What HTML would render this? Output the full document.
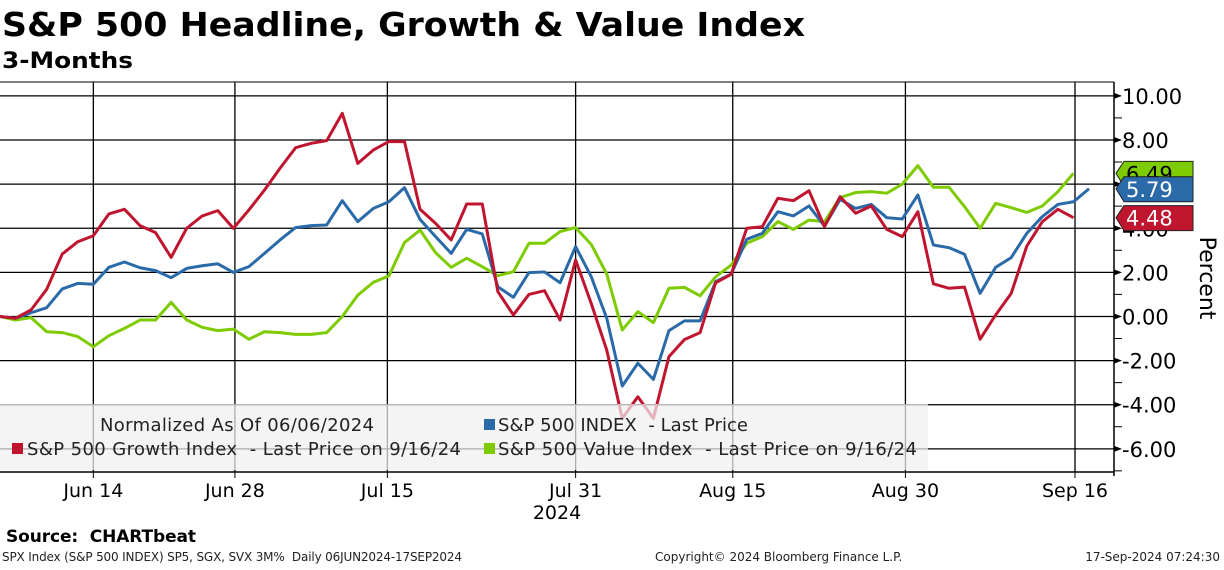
<!DOCTYPE html>
<html><head><meta charset="utf-8"><style>
body{margin:0;background:#fff;width:1224px;height:566px;overflow:hidden;font-family:"DejaVu Sans","Liberation Sans",sans-serif}
text{white-space:pre}
</style></head><body>
<svg width="1224" height="566" xmlns="http://www.w3.org/2000/svg">
<text x="2" y="36" font-size="33" font-weight="bold" textLength="803" lengthAdjust="spacingAndGlyphs">S&amp;P 500 Headline, Growth &amp; Value Index</text>
<text x="2" y="68" font-size="22" font-weight="bold" textLength="131" lengthAdjust="spacingAndGlyphs">3-Months</text>
<g id="grid"></g>
<g id="lines"></g>
<g id="legend">
<rect x="0" y="404" width="928" height="66" fill="#f0f0f0" opacity="0.72"/>
<text x="100" y="431" font-size="18" fill="#222" textLength="274">Normalized As Of 06/06/2024</text>
<rect x="484" y="419" width="11" height="11" fill="#2a6aa8"/>
<text x="498" y="431" font-size="18" fill="#222" textLength="250">S&amp;P 500 INDEX  - Last Price</text>
<rect x="12" y="443" width="11" height="11" fill="#c0152f"/>
<text x="27" y="455" font-size="18" fill="#222" textLength="434">S&amp;P 500 Growth Index  - Last Price on 9/16/24</text>
<rect x="484" y="443" width="11" height="11" fill="#7dcb00"/>
<text x="498" y="455" font-size="18" fill="#222" textLength="419">S&amp;P 500 Value Index  - Last Price on 9/16/24</text>
</g>
<g id="axes"></g>
<g id="tags"></g>
<text transform="translate(1200,278) rotate(90)" font-size="22" text-anchor="middle">Percent</text>
<text x="6" y="542" font-size="17" font-weight="bold" textLength="190">Source:  CHARTbeat</text>
<text x="2" y="561" font-size="12" fill="#222" textLength="460">SPX Index (S&amp;P 500 INDEX) SP5, SGX, SVX 3M%  Daily 06JUN2024-17SEP2024</text>
<text x="655" y="561" font-size="12" fill="#222">Copyright© 2024 Bloomberg Finance L.P.</text>
<text x="1220" y="561" font-size="12" fill="#222" text-anchor="end">17-Sep-2024 07:24:30</text>
</svg>
<script>
const growth=[0,-0.08,0.3,1.23,2.83,3.39,3.66,4.65,4.86,4.12,3.8,2.68,4.0,4.56,4.8,4.0,4.83,5.73,6.72,7.65,7.85,7.97,9.21,6.94,7.55,7.93,7.93,4.86,4.22,3.47,5.1,5.1,1.13,0.07,1.0,1.17,-0.16,2.56,0.6,-1.52,-4.62,-3.64,-4.62,-1.82,-1.04,-0.73,1.53,1.91,4.0,4.07,5.36,5.25,5.7,4.07,5.43,4.68,5.01,3.95,3.62,4.75,1.48,1.28,1.33,-1.03,0.07,1.05,3.19,4.3,4.86,4.48];
const spx=[0,-0.08,0.17,0.4,1.25,1.5,1.46,2.23,2.47,2.21,2.08,1.76,2.18,2.3,2.39,2.0,2.26,2.86,3.47,4.03,4.12,4.15,5.25,4.3,4.9,5.2,5.84,4.4,3.62,2.86,3.95,3.74,1.35,0.87,1.99,2.02,1.53,3.17,1.81,-0.08,-3.15,-2.12,-2.85,-0.64,-0.2,-0.2,1.58,1.92,3.5,3.77,4.75,4.56,5.01,4.1,5.31,4.9,5.08,4.48,4.42,5.51,3.24,3.12,2.82,1.05,2.23,2.67,3.77,4.53,5.08,5.2,5.79];
const value=[0,-0.16,-0.05,-0.69,-0.73,-0.91,-1.37,-0.87,-0.54,-0.16,-0.16,0.64,-0.16,-0.49,-0.64,-0.57,-1.03,-0.69,-0.73,-0.81,-0.81,-0.73,0,0.97,1.55,1.84,3.35,3.92,2.89,2.23,2.64,2.26,1.85,2.03,3.32,3.32,3.85,4.03,3.27,1.93,-0.61,0.22,-0.28,1.28,1.32,0.94,1.8,2.33,3.32,3.62,4.3,3.95,4.37,4.3,5.39,5.62,5.66,5.59,6.0,6.84,5.86,5.86,4.98,4.0,5.13,4.93,4.72,5.01,5.66,6.49];
const yTicks=[10,8,6,4,2,0,-2,-4,-6];
const xTickLabels=["Jun 14","Jun 28","Jul 15","Jul 31","Aug 15","Aug 30","Sep 16"];
const xTickIdx=[6,15.1,24.9,37,47.1,58.2,69.1];
const NS="http://www.w3.org/2000/svg";
const X0=0,X1=1114,T=82,B=472;
const xs=i=>X0+i*(1089/70);
const ys=v=>316.5-v*22.06;
function mk(tag,attrs,parent){const e=document.createElementNS(NS,tag);for(const k in attrs)e.setAttribute(k,attrs[k]);document.getElementById(parent).appendChild(e);return e;}
mk('line',{x1:0,x2:X1,y1:T,y2:T,stroke:'#000','stroke-width':1},'grid');
yTicks.forEach(v=>{const l=mk('line',{x1:0,x2:X1,y1:ys(v),y2:ys(v),stroke:'#000','stroke-width':1.3},'grid');

});
xTickIdx.forEach(i=>{const l=mk('line',{x1:xs(i),x2:xs(i),y1:T,y2:B,stroke:'#000','stroke-width':1.3},'grid');

});
[[value,'#7dcb00','value-line'],[spx,'#2a6aa8','spx-line'],[growth,'#c0152f','growth-line']].forEach(([d,c,n])=>{
const p=mk('polyline',{points:d.map((v,i)=>xs(i)+','+ys(v)).join(' '),fill:'none',stroke:c,'stroke-width':3,'stroke-linejoin':'round'},'lines');

});
mk('line',{x1:X1,x2:X1,y1:T,y2:B+4,stroke:'#000','stroke-width':1.5},'axes');
mk('line',{x1:0,x2:X1,y1:B,y2:B,stroke:'#000','stroke-width':1.5},'axes');
yTicks.forEach(v=>{const y=ys(v);
mk('polygon',{points:`${X1},${y-3} ${X1+8},${y} ${X1},${y+3}`,fill:'#000'},'axes');
mk('line',{x1:X1,x2:X1+8,y1:y+22,y2:y+22,stroke:'#000'},'axes');
const t=mk('text',{x:1122,y:y+8,'font-size':21,fill:'#000'},'axes');t.textContent=v.toFixed(2);

});
xTickLabels.forEach((s,k)=>{const x=xs(xTickIdx[k]);
mk('line',{x1:x,x2:x,y1:B,y2:B+6,stroke:'#000'},'axes');
const t=mk('text',{x:x,y:497,'font-size':19,'text-anchor':'middle'},'axes');t.textContent=s;

});
const yr=mk('text',{x:557,y:519,'font-size':19,'text-anchor':'middle'},'axes');yr.textContent='2024';


[[value[value.length-1],'#7dcb00','#000','value-tag'],[spx[spx.length-1],'#2a6aa8','#fff','spx-tag'],[growth[growth.length-1],'#c0152f','#fff','growth-tag']].forEach(([v,c,tc,n])=>{
const y=ys(v);const g=mk('g',{},'tags');


const p=document.createElementNS(NS,'polygon');p.setAttribute('points',`1116,${y} 1124,${y-12} 1193,${y-12} 1193,${y+13} 1124,${y+13}`);p.setAttribute('fill',c);p.setAttribute('stroke','#222');g.appendChild(p);
const t=document.createElementNS(NS,'text');t.setAttribute('x',1126);t.setAttribute('y',y+8);t.setAttribute('font-size',21);t.setAttribute('fill',tc);t.textContent=v.toFixed(2);g.appendChild(t);});
</script>
</body></html>
